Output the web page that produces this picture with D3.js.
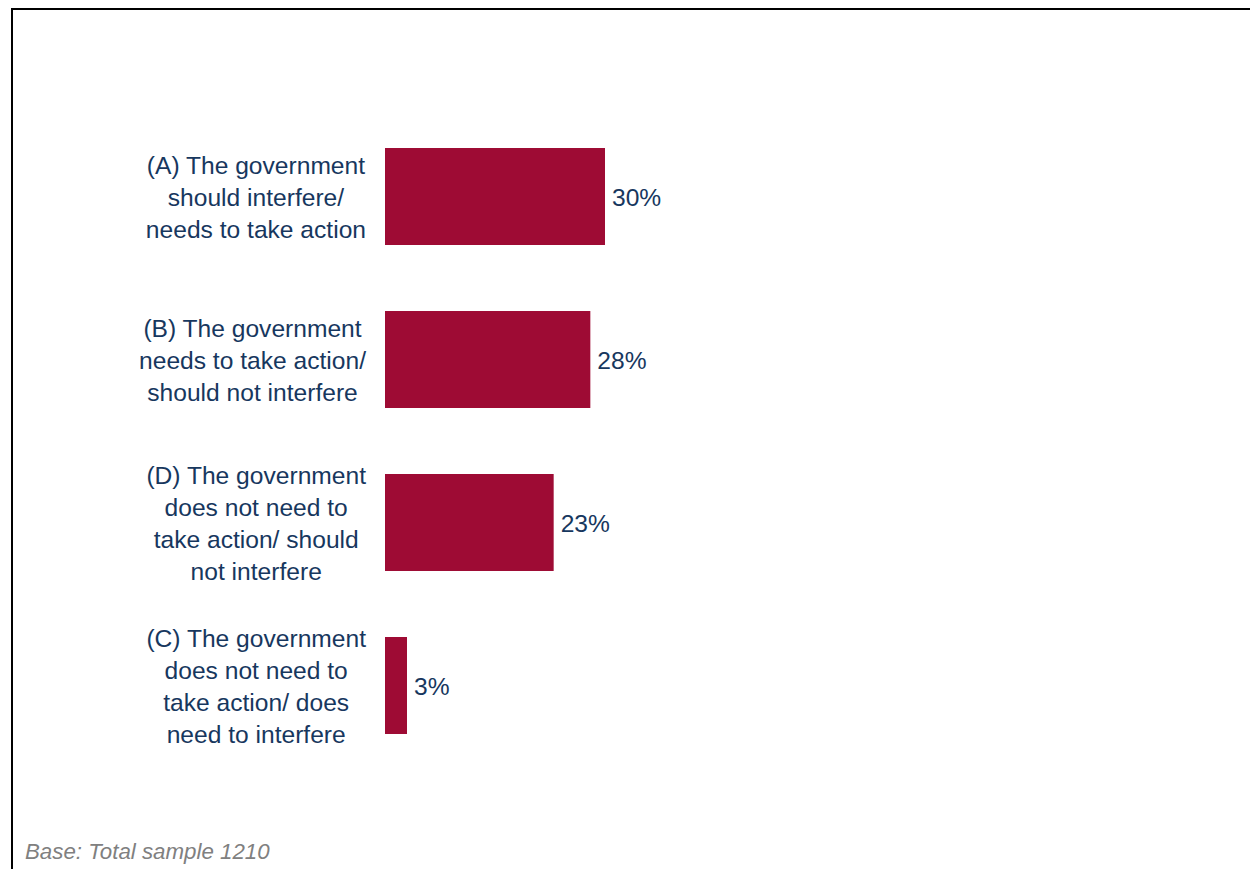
<!DOCTYPE html>
<html>
<head>
<meta charset="utf-8">
<script src="https://cdn.jsdelivr.net/npm/d3@7"></script>
<style>
  html, body { margin: 0; padding: 0; background: #ffffff; }
  svg { display: block; }
  text { font-family: "Liberation Sans", Arial, sans-serif; }
</style>
</head>
<body>
<svg id="chart" width="1250" height="869"></svg>
<script>
// Survey answers, in display order
const categories = ["A", "B", "D", "C"];
const categoryLines = [
  ["(A) The government", "should interfere/", "needs to take action"],
  ["(B) The government", "needs to take action/", "should not interfere"],
  ["(D) The government", "does not need to", "take action/ should", "not interfere"],
  ["(C) The government", "does not need to", "take action/ does", "need to interfere"]
];
const shares = [30, 28, 23, 3];
const footnote = "Base: Total sample 1210";

const navy = "#17375E";
const barColor = "#9E0B34";
const fontSize = 24.6;
const lineHeight = 32;

const svg = d3.select("#chart");

// Frame: top and left rule
svg.append("path")
  .attr("d", `M12,869 V9 H1250`)
  .attr("fill", "none")
  .attr("stroke", "#000")
  .attr("stroke-width", 2);

const x = d3.scaleLinear().domain([0, 30]).range([385, 605]);
const y = d3.scaleBand().domain(categories).range([82, 800]).padding(0.405);

const rows = categories.map((c, i) => ({ key: c, lines: categoryLines[i], value: shares[i] }));

// Bars
svg.append("g").selectAll("rect")
  .data(rows)
  .join("rect")
  .attr("x", x(0))
  .attr("y", d => y(d.key))
  .attr("width", d => x(d.value) - x(0))
  .attr("height", y.bandwidth())
  .attr("fill", barColor);

// Value labels
svg.append("g").selectAll("text")
  .data(rows)
  .join("text")
  .attr("x", d => x(d.value) + 7)
  .attr("y", d => y(d.key) + y.bandwidth() / 2 + 9.5)
  .attr("fill", navy)
  .attr("font-size", fontSize)
  .text(d => d.value + "%");

// Category labels: each line centred within a block right-aligned to the axis
const labelRight = 364;
const labels = svg.append("g");
rows.forEach(d => {
  const g = labels.append("g");
  const cy = y(d.key) + y.bandwidth() / 2;
  const n = d.lines.length;
  const texts = g.selectAll("text")
    .data(d.lines)
    .join("text")
    .attr("fill", navy)
    .attr("font-size", fontSize)
    .attr("text-anchor", "middle")
    .attr("y", (t, i) => cy + (i - (n - 1) / 2) * lineHeight + 9.5)
    .text(t => t);
  let maxW = 0;
  texts.each(function () { maxW = Math.max(maxW, this.getComputedTextLength()); });
  texts.attr("x", labelRight + 2 - maxW / 2);
});

// Footnote
svg.append("text")
  .attr("x", 25)
  .attr("y", 859)
  .attr("fill", "#808080")
  .attr("font-size", 22.3)
  .attr("font-style", "italic")
  .text(footnote);
</script>
</body>
</html>
